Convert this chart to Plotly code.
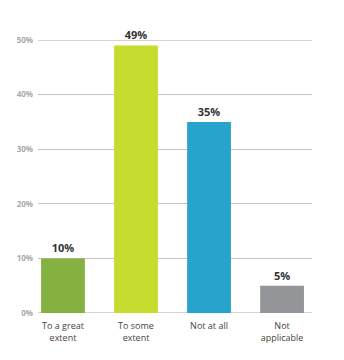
import plotly.graph_objects as go

categories = ["To a great<br>extent", "To some<br>extent", "Not at all", "Not<br>applicable"]
values = [10, 49, 35, 5]
colors = ["#84b13f", "#c6dc2e", "#27a3cc", "#949598"]
y_ticks = [0, 10, 20, 30, 40, 50]
y_tick_labels = [f"{t}%" for t in y_ticks]

fig = go.Figure(
    go.Bar(
        x=list(range(len(categories))),
        y=values,
        marker=dict(color=colors, line=dict(width=0)),
        width=0.6,
        text=[f"{v}%" for v in values],
        textposition="outside",
        textfont=dict(family="Open Sans", size=11, color="#333333", weight="bold"),
        cliponaxis=False,
    )
)

fig.update_layout(
    width=344,
    height=360,
    margin=dict(l=38, r=32, t=40, b=47),
    paper_bgcolor="white",
    plot_bgcolor="white",
    showlegend=False,
    font=dict(family="Open Sans"),
    xaxis=dict(
        tickmode="array",
        tickvals=list(range(len(categories))),
        ticktext=categories,
        range=[-0.342, 3.41],
        showgrid=False,
        zeroline=False,
        showline=False,
        ticks="",
        ticklabelstandoff=6,
        tickfont=dict(family="Open Sans", size=9, color="#444444"),
    ),
    yaxis=dict(
        range=[0, 50],
        tickmode="array",
        tickvals=y_ticks,
        ticktext=y_tick_labels,
        showgrid=True,
        gridcolor="#c4c4c4",
        gridwidth=1,
        zeroline=False,
        showline=False,
        ticks="",
        ticklabelstandoff=4,
        tickfont=dict(family="Open Sans", size=8, color="#a9a9a9", weight="bold"),
    ),
)

# heavier rules at the bottom and top of the scale
for yv in (0, 50):
    fig.add_shape(
        type="line", xref="paper", yref="y", x0=0, x1=1, y0=yv, y1=yv,
        line=dict(color="#d4d4d4", width=2), layer="below",
    )

fig.write_html("out.html")
